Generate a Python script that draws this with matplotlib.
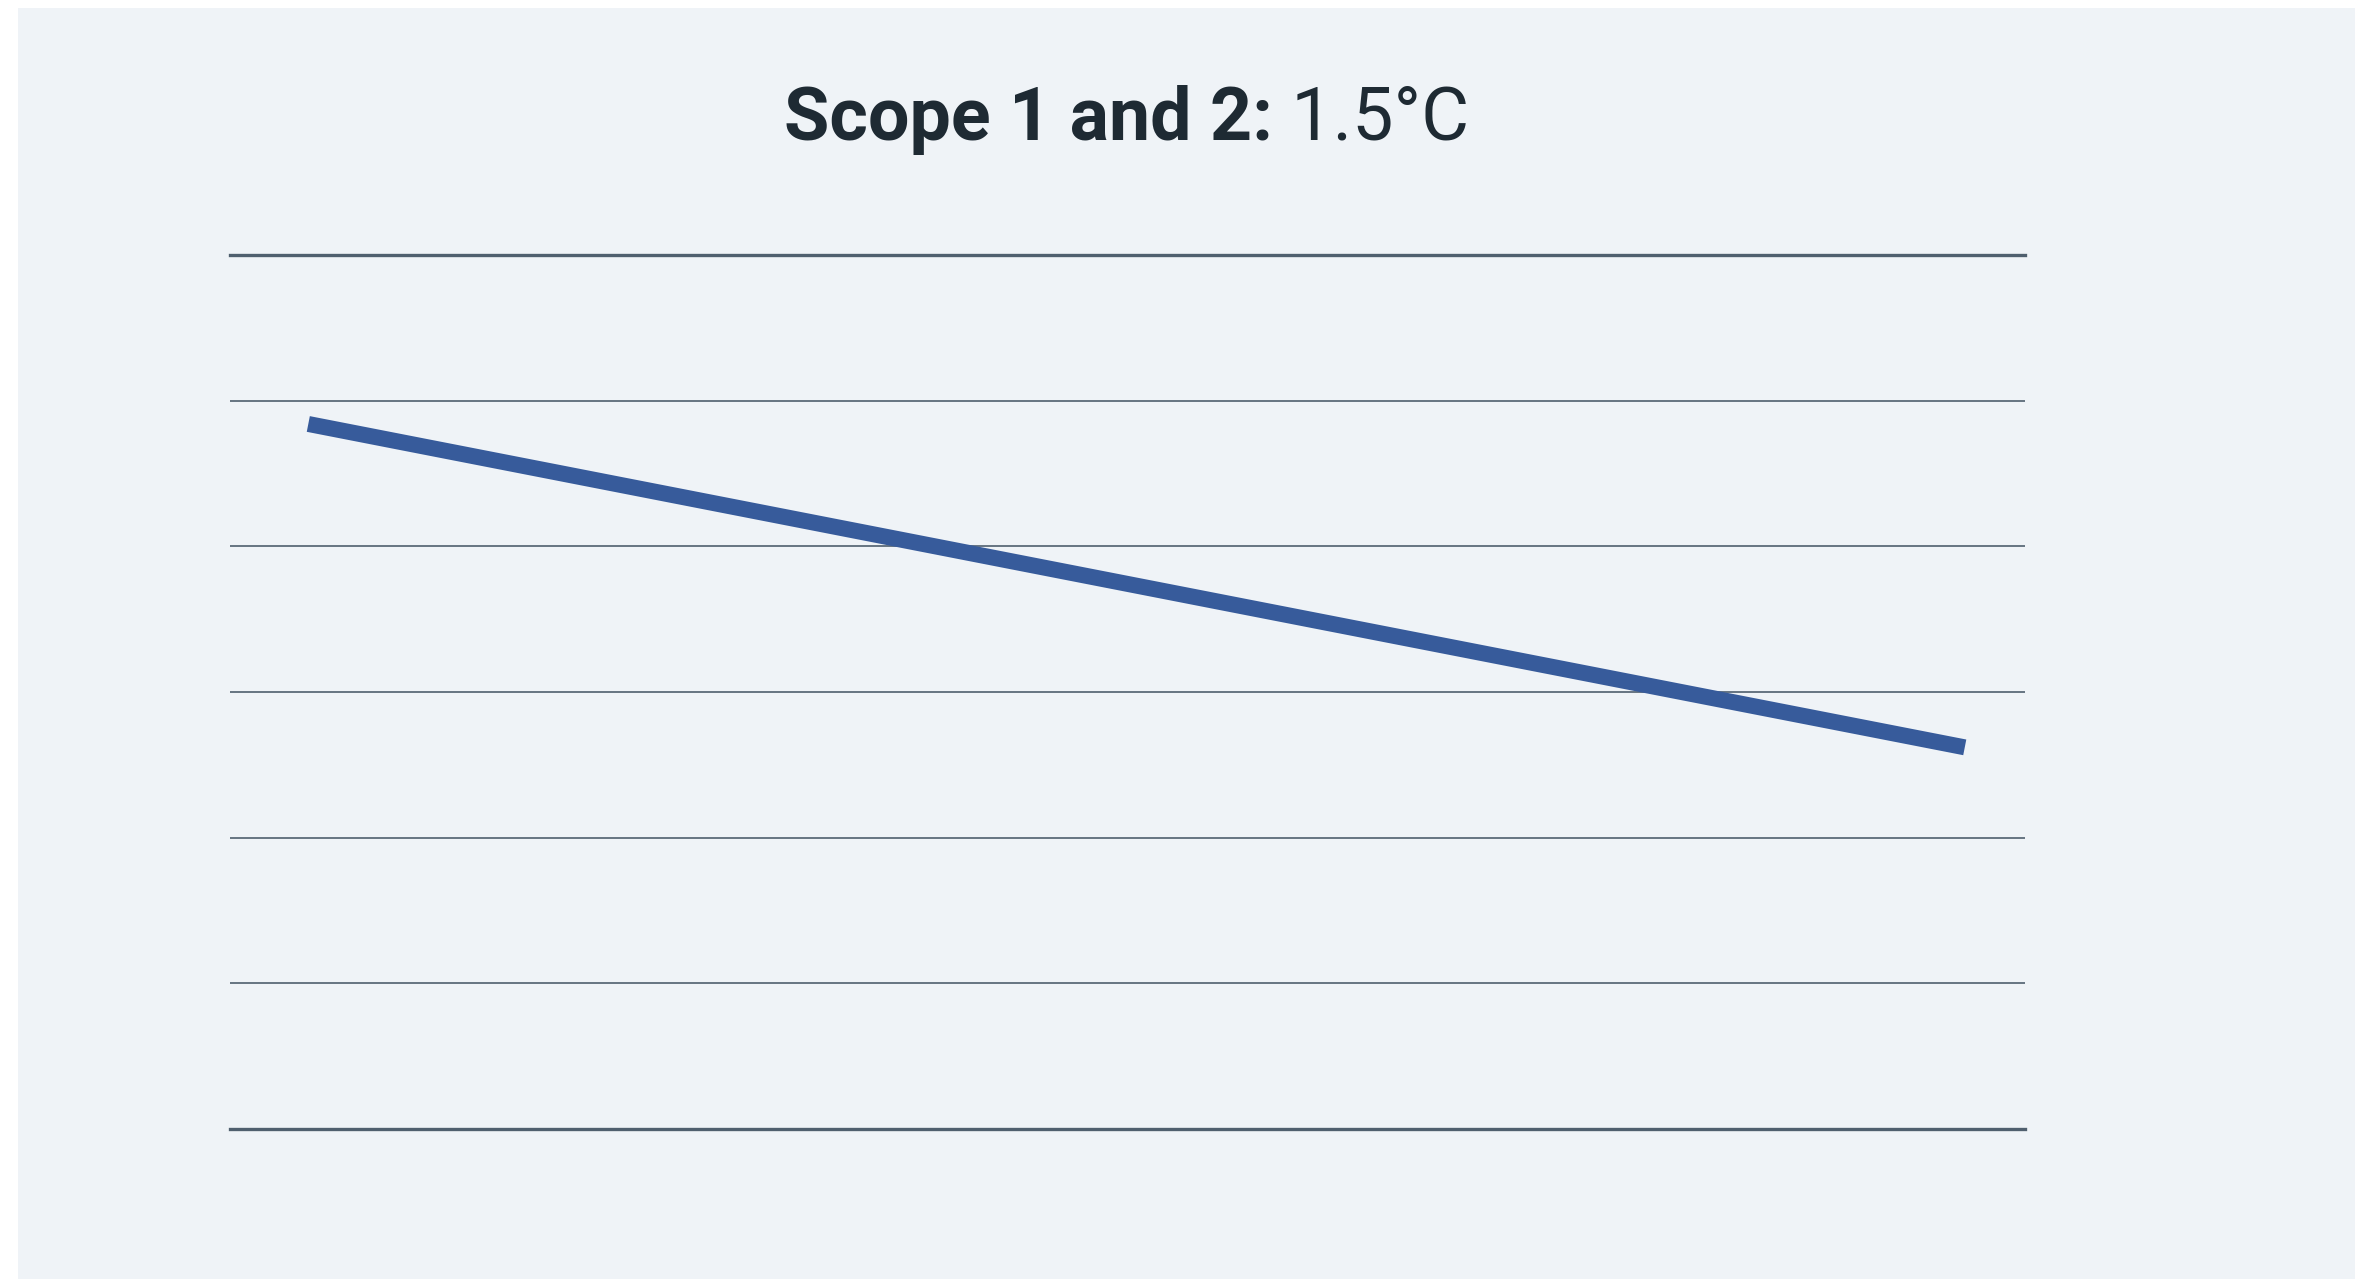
import matplotlib
matplotlib.use("Agg")
import matplotlib.pyplot as plt
from matplotlib.patches import Rectangle

# ---- data ----
title_bold = "Scope 1 and 2:"
title_regular = " 1.5°C"
years = [2019, 2030]
emissions = [4.84, 2.62]
y_ticks = [0, 1, 2, 3, 4, 5, 6]

W, H, DPI = 2355, 1279, 100
fig = plt.figure(figsize=(W / DPI, H / DPI), dpi=DPI, facecolor="white")

# light panel background
fig.patches.append(Rectangle((18 / W, 0), 1 - 18 / W, (H - 8) / H,
                             transform=fig.transFigure, facecolor="#eff3f7",
                             edgecolor="none", zorder=-5))

ax = fig.add_axes([230 / W, 150 / H, 1795 / W, 874 / H])
ax.set_zorder(2)
ax.set_facecolor("none")

grid_col = "#4f5f6e"
ax.set_ylim(y_ticks[0], y_ticks[-1])
ax.set_xlim(2018.48, 2030.40)
ax.set_yticks(y_ticks[1:-1])
ax.set_xticks([])
ax.tick_params(axis="y", length=0, labelleft=False)
ax.grid(axis="y", color=grid_col, linewidth=1.2)
for s in ["left", "right"]:
    ax.spines[s].set_visible(False)
for s in ["top", "bottom"]:
    ax.spines[s].set_color(grid_col)
    ax.spines[s].set_linewidth(2.4)

ax.plot(years, emissions, color="#375b9b", linewidth=11.5,
        solid_capstyle="butt", zorder=3)

# title: bold + regular, centred over the plot
fam = ["Roboto", "DejaVu Sans"]
fs = 53
base_y = (H - 140) / H
t1 = fig.text(0, base_y, title_bold, fontsize=fs, fontweight="bold",
              family=fam, color="#1e2a33", va="baseline", ha="left", zorder=5)
t2 = fig.text(0, base_y, title_regular, fontsize=fs, fontweight="normal",
              family=fam, color="#1e2a33", va="baseline", ha="left", zorder=5)
fig.canvas.draw()
r = fig.canvas.get_renderer()
w1 = t1.get_window_extent(r).width
w2 = t2.get_window_extent(r).width
cx = 1127
x0 = cx - (w1 + w2) / 2
t1.set_x(x0 / W)
t2.set_x((x0 + w1) / W)

fig.savefig("out.png", dpi=DPI, facecolor="white")
